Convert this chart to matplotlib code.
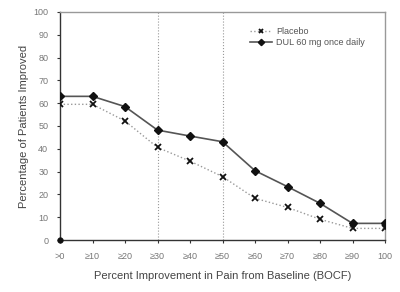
import matplotlib
matplotlib.use("Agg")
import matplotlib.pyplot as plt

plt.rcParams['font.family'] = ['Liberation Sans', 'DejaVu Sans']

categories = [">0", "≥10", "≥20", "≥30", "≥40", "≥50", "≥60", "≥70", "≥80", "≥90", "100"]
placebo = [59.5, 59.5, 52.2, 40.6, 34.6, 27.8, 18.3, 14.3, 9.1, 5.1, 5.1]
dul = [63.0, 63.0, 58.5, 48.2, 45.6, 43.1, 30.4, 23.4, 16.1, 7.3, 7.3]
y_ticks = [0, 10, 20, 30, 40, 50, 60, 70, 80, 90, 100]
ref_lines = [3, 5]

fig = plt.figure(figsize=(4.0, 2.92), dpi=100)
ax = fig.add_axes([0.15, 0.178, 0.8125, 0.781])
x = list(range(len(categories)))

for r in ref_lines:
    ax.plot([r, r], [0, 100], color='#999999', linestyle=':', linewidth=0.8, zorder=1)

ax.plot(x, placebo, color='#999999', linestyle=':', linewidth=1.0,
        marker='x', markersize=4, markeredgecolor='#111111', markeredgewidth=1.3,
        label='Placebo', zorder=3)
ax.plot(x, dul, color='#555555', linestyle='-', linewidth=1.2,
        marker='D', markersize=4, markerfacecolor='#111111', markeredgecolor='#111111',
        label='DUL 60 mg once daily', zorder=4)
ax.plot([0], [0], marker='o', markersize=3.5, color='#111111', clip_on=False, zorder=5)

ax.set_xlim(0, 10)
ax.set_ylim(0, 100)
ax.set_xticks(x)
ax.set_xticklabels(categories)
ax.set_yticks(y_ticks)
ax.tick_params(axis='both', labelsize=6.5, colors='#333333', labelcolor='#777777',
               length=2.5, width=0.8, direction='out', pad=6)

for s in ['left', 'bottom']:
    ax.spines[s].set_color('#333333')
    ax.spines[s].set_linewidth(1.0)
for s in ['top', 'right']:
    ax.spines[s].set_color('#999999')
    ax.spines[s].set_linewidth(1.0)

ax.set_xlabel('Percent Improvement in Pain from Baseline (BOCF)', fontsize=8, color='#444444', labelpad=7)
ax.set_ylabel('Percentage of Patients Improved', fontsize=8, color='#444444', labelpad=3)

leg = ax.legend(loc='upper left', bbox_to_anchor=(0.585, 0.935), frameon=False, fontsize=6.5,
                handlelength=2.4, labelspacing=0.25, handletextpad=0.5, borderpad=0,
                borderaxespad=0, markerscale=0.8)
for t in leg.get_texts():
    t.set_color('#555555')

fig.savefig('out.png', dpi=100)
